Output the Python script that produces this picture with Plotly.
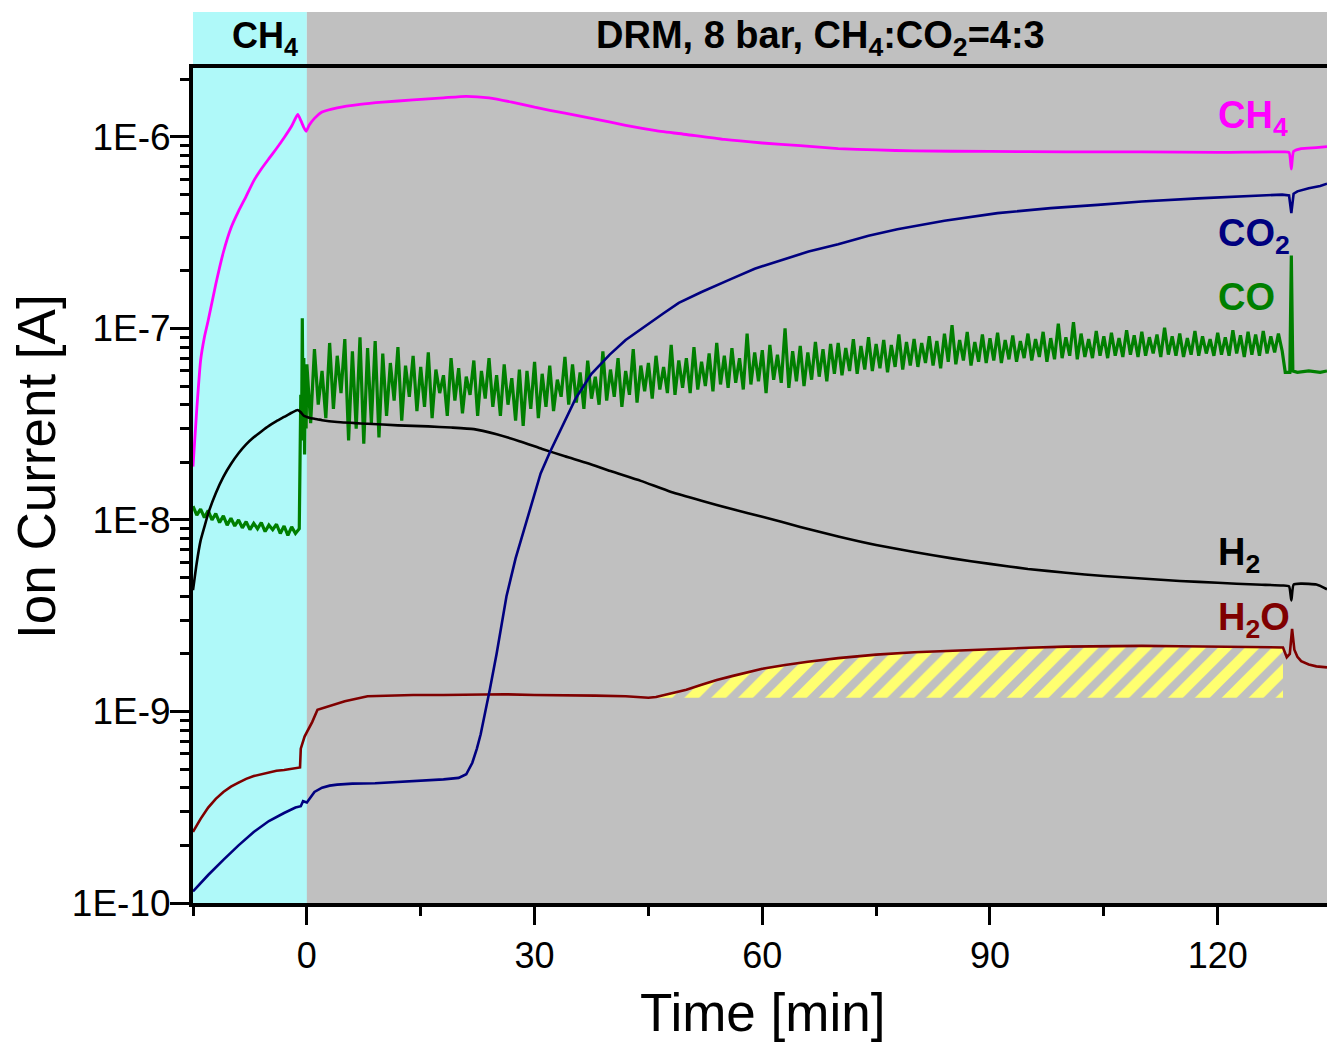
import numpy as np
import plotly.graph_objects as go

# ---------------- data ----------------
ch4_t = [-15, -14.5, -14, -13.5, -13, -12, -11, -10, -9, -8, -7, -6, -5, -4, -3, -2, -1.2, -0.8, -0.4, -0.1,
         0.3, 1, 2, 4, 7, 10, 14, 18, 21, 24, 27, 30, 34, 38, 42, 46, 50, 55, 60, 65, 70, 75, 80, 90,
         100, 110, 120, 128.5, 129.4, 129.7, 130.0, 131, 133, 134.4]
ch4_v = [1.9e-8, 3.8e-8, 6.8e-8, 9.0e-8, 1.1e-7, 1.7e-7, 2.5e-7, 3.35e-7, 4.1e-7, 4.9e-7, 5.9e-7, 6.8e-7,
         7.7e-7, 8.7e-7, 9.9e-7, 1.14e-6, 1.31e-6, 1.22e-6, 1.12e-6, 1.07e-6,
         1.15e-6, 1.25e-6, 1.35e-6, 1.42e-6, 1.48e-6, 1.52e-6, 1.56e-6, 1.6e-6, 1.63e-6, 1.6e-6, 1.52e-6,
         1.43e-6, 1.33e-6, 1.24e-6, 1.15e-6, 1.08e-6, 1.03e-6, 9.7e-7, 9.3e-7, 9.0e-7, 8.7e-7, 8.55e-7,
         8.45e-7, 8.4e-7, 8.35e-7, 8.35e-7, 8.3e-7, 8.35e-7, 8.3e-7, 6.8e-7, 8.4e-7, 8.7e-7, 8.8e-7, 8.9e-7]

co2_t = [-15, -13, -11, -9, -7, -5, -3, -1.5, -0.8, -0.5, 0, 0.5, 1, 2, 3, 4, 6, 9, 12, 15, 18, 20, 21,
         21.8, 22.4, 22.9, 23.5, 24.1, 25, 26.3, 27.5, 28.6, 29.8, 30.8, 32, 33.5, 35.4, 37.5, 39.9, 42,
         44.4, 47, 49, 52, 55.7, 59, 62.6, 66.1, 70, 74, 77.8, 84, 91, 98, 104.2, 110, 117.4, 124, 128.5,
         129.4, 129.7, 130.0, 130.5, 132, 133.5, 134.4]
co2_v = [1.15e-10, 1.4e-10, 1.68e-10, 2.0e-10, 2.35e-10, 2.68e-10, 2.95e-10, 3.15e-10, 3.2e-10, 3.4e-10,
         3.35e-10, 3.55e-10, 3.8e-10, 4.0e-10, 4.1e-10, 4.15e-10, 4.2e-10, 4.22e-10, 4.28e-10, 4.35e-10,
         4.42e-10, 4.5e-10, 4.7e-10, 5.4e-10, 6.4e-10, 7.6e-10, 9.8e-10, 1.3e-9, 2.0e-9, 4.0e-9, 6.3e-9,
         8.9e-9, 1.3e-8, 1.75e-8, 2.25e-8, 3.0e-8, 4.3e-8, 5.8e-8, 7.3e-8, 8.7e-8, 1.02e-7, 1.2e-7,
         1.36e-7, 1.55e-7, 1.8e-7, 2.05e-7, 2.28e-7, 2.52e-7, 2.75e-7, 3.05e-7, 3.3e-7, 3.65e-7, 4.0e-7,
         4.25e-7, 4.42e-7, 4.6e-7, 4.78e-7, 4.9e-7, 5.0e-7, 4.95e-7, 4.0e-7, 5.05e-7, 5.2e-7, 5.4e-7,
         5.55e-7, 5.7e-7]

h2_t = [-15, -14.5, -14, -13.5, -13, -12, -11, -10, -9, -8, -7, -6, -5, -4, -3, -2, -1.2, -0.8, -0.4, 0,
        0.5, 1, 1.5, 2, 4, 8, 12, 16, 19, 22, 25, 28, 31, 34, 37, 40, 44, 48, 52, 56, 60, 65, 70, 75,
        80, 85, 90, 95, 100, 105, 110, 115, 120, 125, 128.5, 129.4, 129.7, 130.0, 131, 133, 134.4]
h2_v_e9 = [4.3, 6.0, 7.8, 9.2, 10.8, 13.8, 16.8, 19.6, 22.3, 24.8, 27.0, 29.0, 31.0, 32.8, 34.5, 36.3,
           37.5, 36.5, 35.0, 34.5, 34.0, 33.8, 33.5, 33.2, 32.5, 31.8, 31.2, 30.8, 30.4, 29.8, 28.0, 25.8,
           23.5, 21.5, 19.8, 18.0, 16.0, 14.0, 12.6, 11.4, 10.4, 9.2, 8.2, 7.4, 6.8, 6.3, 5.9, 5.55, 5.3,
           5.1, 4.95, 4.8, 4.7, 4.6, 4.55, 4.5, 3.8, 4.6, 4.65, 4.6, 4.35]

h2o_t = [-15, -14, -13, -12, -11, -10, -9, -8, -7, -6, -5, -4, -3, -2, -1.2, -0.9, -0.8, -0.3, 0, 0.7,
         1.4, 2.8, 5, 8, 10, 14, 18, 22, 26, 30, 34, 38, 42, 45, 46, 48, 50, 52, 54, 56, 58, 60, 63, 66,
         70, 75, 80, 85, 90, 95, 100, 105, 110, 115, 120, 125, 128.6, 129.1, 129.5, 129.8, 130.1, 130.5,
         131, 132, 133, 134.4]
h2o_v_e10 = [2.35, 2.75, 3.15, 3.5, 3.8, 4.05, 4.25, 4.45, 4.6, 4.7, 4.8, 4.9, 4.95, 5.0, 5.05, 5.1,
             6.4, 7.4, 7.8, 8.8, 10.2, 10.6, 11.3, 12.0, 12.1, 12.2, 12.2, 12.3, 12.3, 12.2, 12.2, 12.1,
             12.0, 11.8, 11.9, 12.4, 13.0, 13.8, 14.6, 15.3, 16.0, 16.7, 17.5, 18.2, 19.0, 19.8, 20.4,
             20.8, 21.2, 21.5, 21.8, 21.9, 22.0, 21.9, 21.8, 21.7, 21.6, 19.2, 20.0, 27.0, 21.0, 19.3,
             18.3, 17.6, 17.2, 17.0]

# CO: noisy signal, values in units of 1e-8 A
co_pre_t = [-15, -14.5, -14, -13.5, -13, -12.5, -12, -11.5, -11, -10.5, -10, -9.5, -9, -8.5, -8, -7.5,
            -7, -6.5, -6, -5.5, -5, -4.5, -4, -3.5, -3, -2.5, -2, -1.5, -1,
            -0.9, -0.8, -0.7, -0.6, -0.5, -0.4, -0.3, -0.2, -0.1]
co_pre_v = [1.18, 1.06, 1.14, 1.03, 1.12, 1.0, 1.08, 0.97, 1.05, 0.94, 1.02, 0.93, 1.0, 0.91, 0.98,
            0.89, 0.96, 0.9, 0.97, 0.87, 0.94, 0.89, 0.95, 0.85, 0.93, 0.83, 0.92, 0.85, 0.9,
            1.8, 4.5, 2.6, 11.3, 3.2, 7.0, 2.2, 6.2, 3.0]
co_main_start, co_main_step = 0.0, 0.5
co_main_v = [
    6.5, 3.2, 7.8, 4.0, 6.0, 3.4, 8.4, 3.8, 7.2, 4.6,
    8.8, 2.6, 7.6, 3.0, 9.0, 2.5, 7.9, 3.2, 8.6, 2.7,
    7.4, 3.5, 6.6, 4.2, 8.0, 3.3, 6.4, 4.4, 7.2, 3.7,
    6.3, 3.9, 7.5, 3.4, 6.1, 4.6, 5.7, 3.5, 7.0, 4.2,
    6.2, 3.6, 5.6, 4.5, 6.8, 3.5, 6.0, 4.3, 7.0, 3.9,
    5.7, 3.5, 6.5, 4.0, 5.5, 3.3, 6.1, 3.1, 6.0, 3.8,
    6.7, 3.4, 5.8, 3.9, 6.4, 3.7, 5.4, 4.4, 7.1, 4.0,
    6.5, 4.1, 5.9, 3.8, 6.8, 4.3, 5.6, 4.0, 7.6, 4.2,
    6.1, 4.4, 7.0, 3.9, 6.0, 4.5, 7.8, 4.1, 6.4, 4.7,
    6.6, 4.3, 7.2, 4.8, 6.3, 4.6, 8.2, 4.5, 6.8, 4.9,
    7.0, 4.6, 8.0, 4.8, 6.7, 5.0, 7.4, 4.7, 8.4, 5.1,
    7.2, 4.9, 7.9, 5.2, 7.0, 4.8, 9.4, 5.1, 7.5, 5.3,
    7.7, 4.6, 8.2, 5.4, 7.3, 5.2, 10.0, 4.9, 7.6, 5.3,
    8.1, 5.0, 7.5, 5.4, 8.5, 5.6, 7.8, 5.3, 8.3, 5.8,
    8.4, 5.7, 7.9, 6.0, 8.8, 5.8, 8.1, 6.1, 9.0, 6.0,
    8.3, 6.2, 8.7, 5.9, 8.2, 6.3, 9.3, 6.1, 8.5, 6.4,
    8.8, 6.3, 8.4, 6.6, 9.1, 6.4, 8.6, 6.2, 9.4, 6.7,
    10.4, 6.5, 8.7, 6.8, 9.6, 6.4, 8.5, 6.7, 9.3, 6.6,
    8.9, 6.8, 9.5, 6.6, 8.7, 6.9, 9.2, 6.7, 8.6, 7.0,
    9.4, 6.8, 8.8, 7.1, 9.6, 6.7, 8.9, 6.9, 10.6, 7.0,
    9.0, 7.2, 10.8, 6.9, 9.4, 7.1, 8.8, 7.0, 9.7, 7.2,
    9.1, 7.0, 9.5, 7.2, 8.9, 7.1, 9.8, 7.3, 9.2, 7.1,
    9.6, 7.2, 9.0, 7.4, 9.3, 7.1, 10.1, 7.3, 9.1, 7.2,
    9.4, 7.1, 8.9, 7.3, 9.7, 7.2, 9.1, 7.4, 8.8, 7.2,
    9.5, 7.3, 9.0, 7.2, 9.8, 7.4, 9.2, 7.1, 9.6, 7.3,
    9.3, 7.2, 9.7, 7.4, 9.1, 7.5, 9.4, 7.6,
]
co_post_t = [128.9, 129.5, 129.7, 129.9, 130.5, 132, 133.5, 134.4]
co_post_v = [5.9, 5.9, 24.0, 6.0, 5.9, 6.0, 5.9, 6.0]

# hatched region under H2O curve
hatch_t0, hatch_t1 = 46, 128.6
hatch_base = 1.18e-9

# axis settings
x_range = [-15, 134.4]
y_log_range = [-10, -5.64]
x_ticks = [0, 30, 60, 90, 120]
x_minor = [-15, 15, 45, 75, 105]
y_ticks = [1e-10, 1e-9, 1e-8, 1e-7, 1e-6]
y_ticktext = ["1E-10", "1E-9", "1E-8", "1E-7", "1E-6"]

# ---------------- build ----------------
co_main_t = list(co_main_start + co_main_step * np.arange(len(co_main_v)))
co_t = co_pre_t + co_main_t + co_post_t
co_v = [v * 1e-8 for v in co_pre_v + co_main_v + co_post_v]
h2_v = [v * 1e-9 for v in h2_v_e9]
h2o_v = [v * 1e-10 for v in h2o_v_e10]

y_minor = [m * 10.0 ** e for e in range(-10, -5) for m in range(2, 10)]

FONT = "Liberation Sans, Arial, sans-serif"
C_CH4, C_CO2, C_CO, C_H2, C_H2O = "#ff00ff", "#00007f", "#007f00", "#000000", "#7f0000"
CYAN, GRAY = "#aff9f9", "#c0c0c0"

fig = go.Figure()

# hatch
ht = [t for t in h2o_t if hatch_t0 <= t <= hatch_t1]
hv = [v for t, v in zip(h2o_t, h2o_v) if hatch_t0 <= t <= hatch_t1]
fig.add_trace(go.Scatter(x=[hatch_t0, hatch_t1], y=[hatch_base, hatch_base], mode="lines",
                         line=dict(width=0, color="rgba(0,0,0,0)"), showlegend=False, hoverinfo="skip"))
fig.add_trace(go.Scatter(x=ht, y=hv, mode="lines", line=dict(width=0, color="rgba(0,0,0,0)"),
                         fill="tonexty", fillcolor="rgba(0,0,0,0)",
                         fillpattern=dict(shape="/", fgcolor="#ffff70", fgopacity=1,
                                          bgcolor="rgba(0,0,0,0)", size=19, solidity=0.55),
                         showlegend=False, hoverinfo="skip"))

fig.add_trace(go.Scatter(x=co_t, y=co_v, mode="lines", line=dict(color=C_CO, width=3.2), name="CO"))
fig.add_trace(go.Scatter(x=h2_t, y=h2_v, mode="lines", line=dict(color=C_H2, width=2.6, shape="spline",
                                                                 smoothing=0.5), name="H2"))
fig.add_trace(go.Scatter(x=h2o_t, y=h2o_v, mode="lines", line=dict(color=C_H2O, width=2.6), name="H2O"))
fig.add_trace(go.Scatter(x=co2_t, y=co2_v, mode="lines", line=dict(color=C_CO2, width=2.6), name="CO2"))
fig.add_trace(go.Scatter(x=ch4_t, y=ch4_v, mode="lines", line=dict(color=C_CH4, width=2.8, shape="spline",
                                                                   smoothing=0.5), name="CH4"))

span = x_range[1] - x_range[0]
zero_frac = (0 - x_range[0]) / span
head_top = 1.067

shapes = [
    dict(type="rect", xref="x", yref="paper", x0=x_range[0], x1=0, y0=0, y1=1,
         fillcolor=CYAN, line=dict(width=0), layer="below"),
    dict(type="rect", xref="paper", yref="paper", x0=0, x1=zero_frac, y0=1, y1=head_top,
         fillcolor=CYAN, line=dict(width=0), layer="below"),
    dict(type="rect", xref="paper", yref="paper", x0=zero_frac, x1=1, y0=1, y1=head_top,
         fillcolor=GRAY, line=dict(width=0), layer="below"),
]

annotations = [
    dict(text="<b>CH<sub>4</sub></b>", x=(265 - 193) / 1134, y=1.036, xref="paper", yref="paper",
         showarrow=False, xanchor="center", yanchor="middle", font=dict(family=FONT, size=36, color="black")),
    dict(text="<b>DRM, 8 bar, CH<sub>4</sub>:CO<sub>2</sub>=4:3</b>", x=(820 - 193) / 1134, y=1.036,
         xref="paper", yref="paper", showarrow=False, xanchor="center", yanchor="middle",
         font=dict(family=FONT, size=38, color="black")),
    dict(text="<b>CH<sub>4</sub></b>", x=0.902, y=(903 - 118) / 835, xref="paper", yref="paper",
         showarrow=False, xanchor="left", yanchor="middle", font=dict(family=FONT, size=38, color=C_CH4)),
    dict(text="<b>CO<sub>2</sub></b>", x=0.902, y=(903 - 236) / 835, xref="paper", yref="paper",
         showarrow=False, xanchor="left", yanchor="middle", font=dict(family=FONT, size=38, color=C_CO2)),
    dict(text="<b>CO</b>", x=0.902, y=(903 - 297) / 835, xref="paper", yref="paper",
         showarrow=False, xanchor="left", yanchor="middle", font=dict(family=FONT, size=38, color=C_CO)),
    dict(text="<b>H<sub>2</sub></b>", x=0.902, y=(903 - 555) / 835, xref="paper", yref="paper",
         showarrow=False, xanchor="left", yanchor="middle", font=dict(family=FONT, size=38, color=C_H2)),
    dict(text="<b>H<sub>2</sub>O</b>", x=0.902, y=(903 - 620) / 835, xref="paper", yref="paper",
         showarrow=False, xanchor="left", yanchor="middle", font=dict(family=FONT, size=38, color=C_H2O)),
    dict(text="Ion Current [A]", x=(36 - 193) / 1134, y=(903 - 467) / 835, xref="paper", yref="paper",
         showarrow=False, textangle=-90, xanchor="center", yanchor="middle",
         font=dict(family=FONT, size=53, color="black")),
    dict(text="Time [min]", x=(762 - 193) / 1134, y=(903 - 1012) / 835, xref="paper", yref="paper",
         showarrow=False, xanchor="center", yanchor="middle",
         font=dict(family=FONT, size=53, color="black")),
]

fig.update_layout(
    width=1327, height=1043,
    margin=dict(l=193, r=0, t=68, b=140),
    paper_bgcolor="white", plot_bgcolor=GRAY,
    showlegend=False,
    shapes=shapes, annotations=annotations,
    font=dict(family=FONT, color="black"),
    xaxis=dict(range=x_range, showgrid=False, zeroline=False, showline=True, linecolor="black",
               linewidth=4, mirror=True, ticks="outside", ticklen=18, tickwidth=3, tickcolor="black",
               tickmode="array", tickvals=x_ticks, tickfont=dict(family=FONT, size=36),
               minor=dict(tickmode="array", tickvals=x_minor, ticks="outside", ticklen=9, tickwidth=3,
                          tickcolor="black", showgrid=False)),
    yaxis=dict(type="log", range=y_log_range, showgrid=False, zeroline=False, showline=True,
               linecolor="black", linewidth=4, ticks="outside", ticklen=19, tickwidth=3,
               tickcolor="black", tickmode="array", tickvals=y_ticks, ticktext=y_ticktext,
               tickfont=dict(family=FONT, size=37), ticklabelstandoff=-8,
               minor=dict(tickmode="array", tickvals=y_minor, ticks="outside", ticklen=9, tickwidth=3,
                          tickcolor="black", showgrid=False)),
)

fig.write_html("out.html")
